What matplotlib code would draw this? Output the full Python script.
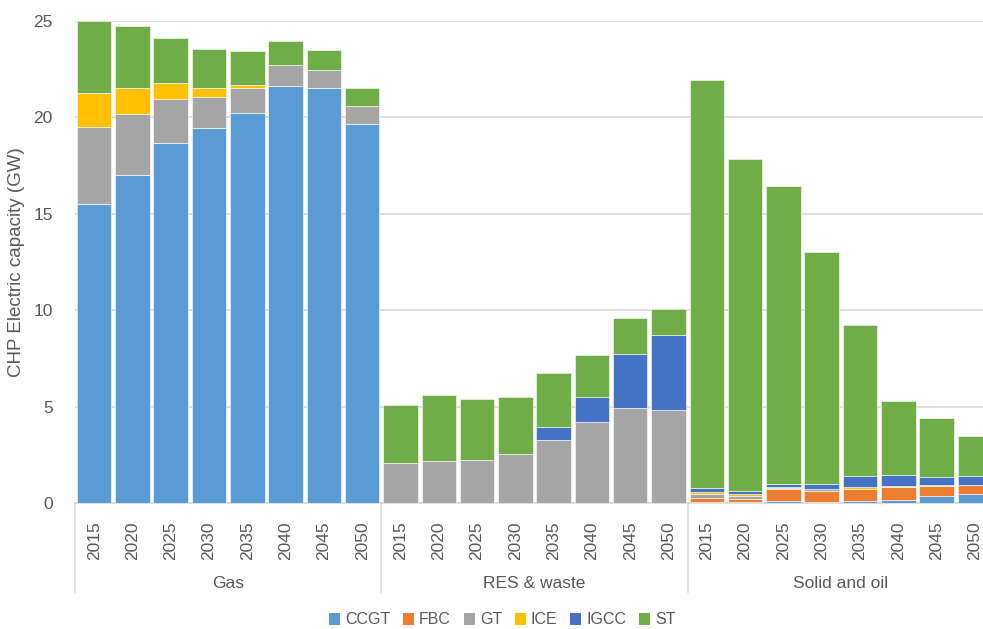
import matplotlib.pyplot as plt
from matplotlib.patches import Patch
from matplotlib.transforms import blended_transform_factory
import numpy as np

plt.rcParams['font.family'] = ['Liberation Sans', 'DejaVu Sans']

groups = ['Gas', 'RES & waste', 'Solid and oil']
years = ['2015', '2020', '2025', '2030', '2035', '2040', '2045', '2050']
techs = ['CCGT', 'FBC', 'GT', 'ICE', 'IGCC', 'ST']
colors = ['#5B9BD5', '#ED7D31', '#A5A5A5', '#FFC000', '#4472C4', '#70AD47']

# capacity in GW, one list per fuel group, 2015..2050
gas = {
    'CCGT': [15.50, 17.03, 18.68, 19.43, 20.24, 21.65, 21.51, 19.68],
    'FBC':  [0, 0, 0, 0, 0, 0, 0, 0],
    'GT':   [3.98, 3.14, 2.30, 1.62, 1.27, 1.05, 0.97, 0.90],
    'ICE':  [1.78, 1.36, 0.83, 0.48, 0.16, 0, 0, 0],
    'IGCC': [0, 0, 0, 0, 0, 0, 0, 0],
    'ST':   [3.74, 3.19, 2.29, 2.02, 1.76, 1.26, 1.00, 0.93],
}
res = {
    'CCGT': [0, 0, 0, 0, 0, 0, 0, 0],
    'FBC':  [0, 0, 0, 0, 0, 0, 0, 0],
    'GT':   [2.07, 2.21, 2.26, 2.54, 3.30, 4.24, 4.92, 4.85],
    'ICE':  [0, 0, 0, 0, 0, 0, 0, 0],
    'IGCC': [0, 0, 0, 0, 0.65, 1.28, 2.83, 3.86],
    'ST':   [3.05, 3.38, 3.14, 2.98, 2.81, 2.18, 1.84, 1.35],
}
solid = {
    'CCGT': [0.07, 0.08, 0.14, 0.05, 0.14, 0.19, 0.40, 0.47],
    'FBC':  [0.19, 0.14, 0.59, 0.60, 0.59, 0.64, 0.52, 0.47],
    'GT':   [0.24, 0.17, 0.06, 0.09, 0.02, 0, 0, 0],
    'ICE':  [0.10, 0.09, 0.06, 0, 0.07, 0.07, 0.02, 0],
    'IGCC': [0.19, 0.17, 0.17, 0.24, 0.62, 0.57, 0.41, 0.48],
    'ST':   [21.14, 17.22, 15.42, 12.06, 7.81, 3.85, 3.08, 2.08],
}

data = [gas, res, solid]
n = len(years)
x = np.arange(n * len(groups))

fig = plt.figure(figsize=(9.83, 6.29), dpi=100)
# the last column runs slightly past the right edge
ax = fig.add_axes([75 / 983, 125.7 / 629, 919 / 983, 482.3 / 629])

bottom = np.zeros(len(x))
for tech, col in zip(techs, colors):
    vals = np.concatenate([d[tech] for d in data])
    ax.bar(x, vals, width=0.9, bottom=bottom, color=col,
           edgecolor='white', linewidth=0.4, zorder=3)
    bottom += vals

ax.set_xlim(-0.5, len(x) - 0.5)
ax.set_ylim(0, 25)
ax.set_yticks([0, 5, 10, 15, 20, 25])
ax.yaxis.grid(True, color='#d9d9d9', linewidth=1.2, zorder=0)
ax.tick_params(axis='y', length=0, labelsize=12.5, labelcolor='#595959', pad=16)
ax.set_ylabel('CHP Electric capacity (GW)', fontsize=13.5, color='#595959',
              labelpad=6)

ax.set_xticks(x)
ax.set_xticklabels(years * len(groups), rotation=90, fontsize=12.5,
                   color='#595959')
ax.tick_params(axis='x', length=0, pad=13)

for side in ['left', 'right', 'top']:
    ax.spines[side].set_visible(False)
ax.spines['bottom'].set_color('#d9d9d9')
ax.spines['bottom'].set_linewidth(1.2)

# category axis: group names and separators below the years
trans = blended_transform_factory(ax.transData, ax.transAxes)
for i, g in enumerate(groups):
    ax.text(i * n + (n - 1) / 2, -0.166, g, transform=trans, ha='center',
            va='center', fontsize=12.5, color='#595959')
for b in range(len(groups) + 1):
    ax.plot([b * n - 0.5, b * n - 0.5], [0, -0.184], transform=trans,
            color='#d9d9d9', linewidth=1.2, clip_on=False)

handles = [Patch(facecolor=c, label=t) for t, c in zip(techs, colors)]
fig.legend(handles=handles, loc='center', bbox_to_anchor=(0.511, 1 - 620 / 629),
           ncol=6, frameon=False, fontsize=11.5, handlelength=0.7,
           handleheight=0.7, handletextpad=0.3, columnspacing=0.8,
           labelcolor='#595959')

fig.savefig('out.png', dpi=100)
